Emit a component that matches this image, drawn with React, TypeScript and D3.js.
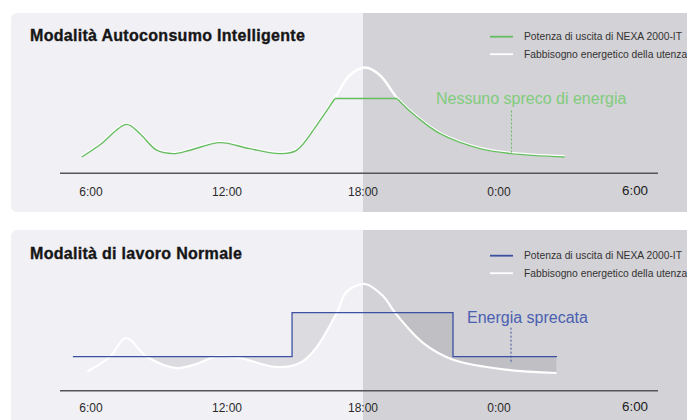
import React from 'react';
import * as d3 from 'd3';

// ---- data ----
const hourTicks = [6, 12, 18, 24, 30];
const tickLabels = ['6:00', '12:00', '18:00', '0:00', '6:00'];

// top panel: user demand (hour, relative power)
const topDemand: [number, number][] = [
  [5.59, 14.8], [6.4, 26], [7.57, 44.5], [8.16, 36], [8.9, 21], [9.63, 17.9],
  [10.37, 21], [11.69, 27.9], [13.0, 22.4], [14.34, 17.9], [15.07, 20.9],
  [16.0, 45], [16.76, 68], [17.42, 88.5], [18.09, 95.5], [18.75, 88.5],
  [19.5, 68], [20.37, 51.2], [21.4, 36], [23.16, 22.4], [24.53, 17.9], [26.9, 14.8],
];
// top panel: NEXA output cap (value, from hour, to hour)
const topCap = [68, 16.76, 19.5];
const topMarker = [24.55, 57, 18];

// bottom panel
const bottomDemand: [number, number][] = [
  [5.84, 17.5], [6.84, 30.9], [7.54, 47.9], [8.46, 30.9], [9.78, 20.6],
  [10.6, 24], [11.54, 31.2], [12.57, 29.7], [14.19, 21.5], [15.22, 25.2],
  [15.9, 38], [16.85, 71], [17.28, 90], [18.09, 97], [18.9, 85.7],
  [19.41, 71], [20.66, 43.3], [21.98, 28.2], [24.34, 19.1], [26.54, 16.1],
];
const bottomOutput: [number, number][] = [
  [5.2, 31], [14.87, 71], [21.97, 31], [26.56, 31],
];
const bottomWaste = [8.46, 26.54];
const bottomMarker = [24.53, 57.3, 24.5];

const W = 687;
const H = 420;

const PANEL_BG = '#f1f0f5';
const NIGHT_BG = '#d3d2d6';
const GREEN = '#66bd5f';
const GREEN_TXT = '#80cc7c';
const BLUE = '#3c50a2';
const BLUE_TXT = '#4a60b1';
const FONT = '"Liberation Sans", Arial, sans-serif';

const x = d3.scaleLinear().domain([6, 30]).range([91, 635]);

function Ticks({ y }: { y: number }) {
  return (
    <g fontFamily={FONT}>
      {hourTicks.map((h, i) => {
        const last = i === hourTicks.length - 1;
        return (
          <text
            key={i}
            x={x(h)}
            y={last ? y - 1 : y}
            textAnchor="middle"
            fontSize={last ? 13.4 : 12}
            fill={last ? '#1a1a1a' : '#2a2a2a'}
          >
            {tickLabels[i]}
          </text>
        );
      })}
    </g>
  );
}

function Legend({ y, color }: { y: number; color: string }) {
  return (
    <g fontFamily={FONT} fontSize={10.3} fill="#333">
      <line x1={490} x2={513} y1={y} y2={y} stroke={color} strokeWidth={1.8} />
      <text x={524} y={y + 3.6}>Potenza di uscita di NEXA 2000-IT</text>
      <line x1={490} x2={513} y1={y + 17.5} y2={y + 17.5} stroke="#ffffff" strokeWidth={1.8} />
      <text x={524} y={y + 21.1}>Fabbisogno energetico della utenza</text>
    </g>
  );
}

export default function App() {
  const yT = d3.scaleLinear().domain([0, 100]).range([173.3, 63.3]);
  const yB = d3.scaleLinear().domain([0, 100]).range([390.7, 280.7]);
  const smooth = d3.curveCatmullRom.alpha(0.5);

  const lineT = d3
    .line<[number, number]>()
    .x((d) => x(d[0]))
    .y((d) => yT(d[1]))
    .curve(smooth);
  const lineB = d3
    .line<[number, number]>()
    .x((d) => x(d[0]))
    .y((d) => yB(d[1]))
    .curve(smooth);
  const stepB = d3
    .line<[number, number]>()
    .x((d) => x(d[0]))
    .y((d) => yB(d[1]))
    .curve(d3.curveStepAfter);
  const stepAreaB = d3
    .area<[number, number]>()
    .x((d) => x(d[0]))
    .y0(yB(0))
    .y1((d) => yB(d[1]))
    .curve(d3.curveStepAfter);
  const aboveDemandB = d3
    .area<[number, number]>()
    .x((d) => x(d[0]))
    .y0(230)
    .y1((d) => yB(d[1]))
    .curve(smooth);

  const demandTPath = lineT(topDemand) || '';
  const [capV, capA, capB] = topCap;

  return (
    <svg
      width={W}
      height={H}
      style={{ position: 'absolute', left: 0, top: 0, background: '#ffffff' }}
    >
      <defs>
        <clipPath id="panelTop">
          <rect x={11} y={13} width={720} height={199} rx={6} />
        </clipPath>
        <clipPath id="panelBot">
          <rect x={11} y={230} width={720} height={230} rx={6} />
        </clipPath>
        <clipPath id="belowCap">
          <rect x={0} y={yT(capV)} width={W} height={200} />
        </clipPath>
        <clipPath id="aboveDemand">
          <path d={aboveDemandB(bottomDemand) || ''} />
        </clipPath>
        <clipPath id="wasteRange">
          <rect x={x(bottomWaste[0])} y={230} width={x(bottomWaste[1]) - x(bottomWaste[0])} height={170} />
        </clipPath>
      </defs>

      {/* ---------- top panel ---------- */}
      <g clipPath="url(#panelTop)">
        <rect x={11} y={13} width={720} height={199} fill={PANEL_BG} />
        <rect x={x(18)} y={13} width={W - x(18)} height={199} fill={NIGHT_BG} />
      </g>
      <text
        x={30}
        y={40.7}
        fontFamily={FONT}
        fontWeight={700}
        fontSize={16}
        letterSpacing={0.3}
        fill="#161616"
        stroke="#161616"
        strokeWidth={0.35}
      >
        Modalità Autoconsumo Intelligente
      </text>
      <line x1={60} x2={658} y1={173.3} y2={173.3} stroke="#555" strokeWidth={1.5} />
      <Ticks y={196} />
      <path d={demandTPath} fill="none" stroke="#ffffff" strokeWidth={2.4} transform="translate(0,-0.7)" />
      <path d={demandTPath} fill="none" stroke={GREEN} strokeWidth={1.4} clipPath="url(#belowCap)" />
      <line x1={x(capA)} x2={x(capB)} y1={yT(capV)} y2={yT(capV)} stroke={GREEN} strokeWidth={1.4} />
      <line
        x1={x(topMarker[0])}
        x2={x(topMarker[0])}
        y1={yT(topMarker[1])}
        y2={yT(topMarker[2])}
        stroke={GREEN}
        strokeWidth={1}
        strokeDasharray="2,2"
      />
      <text x={436} y={104} fontFamily={FONT} fontSize={16} fill={GREEN_TXT}>
        Nessuno spreco di energia
      </text>
      <Legend y={36.7} color={GREEN} />

      {/* ---------- bottom panel ---------- */}
      <g clipPath="url(#panelBot)">
        <rect x={11} y={230} width={720} height={230} fill={PANEL_BG} />
        <rect x={x(18)} y={230} width={W - x(18)} height={230} fill={NIGHT_BG} />
      </g>
      <text
        x={30}
        y={259.3}
        fontFamily={FONT}
        fontWeight={700}
        fontSize={16}
        letterSpacing={0.3}
        fill="#161616"
        stroke="#161616"
        strokeWidth={0.35}
      >
        Modalità di lavoro Normale
      </text>
      <line x1={60} x2={658} y1={390.7} y2={390.7} stroke="#555" strokeWidth={1.5} />
      <Ticks y={411.5} />
      <g clipPath="url(#aboveDemand)">
        <g clipPath="url(#wasteRange)">
          <path d={stepAreaB(bottomOutput) || ''} fill="#000" fillOpacity={0.085} />
        </g>
      </g>
      <path d={lineB(bottomDemand) || ''} fill="none" stroke="#ffffff" strokeWidth={2.2} />
      <path d={stepB(bottomOutput) || ''} fill="none" stroke={BLUE} strokeWidth={1.3} />
      <line
        x1={x(bottomMarker[0])}
        x2={x(bottomMarker[0])}
        y1={yB(bottomMarker[1])}
        y2={yB(bottomMarker[2])}
        stroke={BLUE}
        strokeWidth={1}
        strokeDasharray="2,2"
      />
      <text x={467} y={323.3} fontFamily={FONT} fontSize={16} fill={BLUE_TXT}>
        Energia sprecata
      </text>
      <Legend y={255.7} color={BLUE} />
    </svg>
  );
}
